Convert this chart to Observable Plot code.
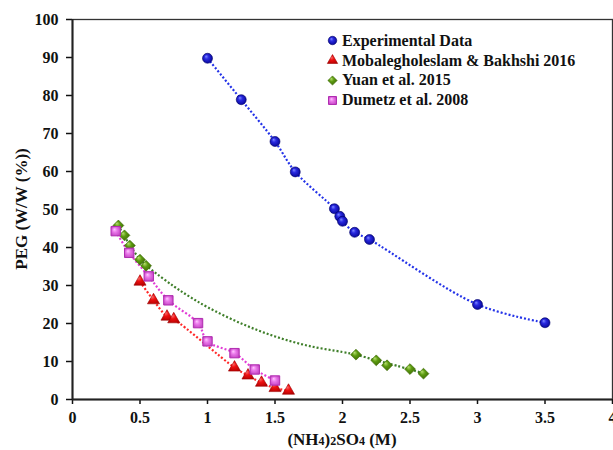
<!DOCTYPE html>
<html>
<head>
<meta charset="utf-8">
<script src="https://cdn.jsdelivr.net/npm/d3@7"></script>
<script src="https://cdn.jsdelivr.net/npm/@observablehq/plot@0.6"></script>
<style>
  body { margin: 0; background: #fff; }
  #chart { position: relative; width: 613px; height: 450px; }
  .legend { position: absolute; left: 325px; top: 31px; font: bold 16px "Liberation Serif", "Times New Roman", serif; color: #111; }
  .legend .row { display: flex; align-items: center; height: 19.8px; white-space: nowrap; }
  .legend svg { width: 15px; height: 15px; margin-right: 2px; }
</style>
</head>
<body>
<div id="chart"></div>
<script>
// Experimental data: PEG (W/W %) vs (NH4)2SO4 (M)
const expX = [1.0, 1.25, 1.5, 1.65, 1.94, 1.98, 2.0, 2.09, 2.2, 3.0, 3.5];
const expY = [89.8, 78.9, 67.9, 59.9, 50.2, 48.2, 46.9, 44.0, 42.1, 25.0, 20.2];

// Mobalegholeslam & Bakhshi 2016
const mobX = [0.5, 0.6, 0.7, 0.75, 1.2, 1.3, 1.4, 1.5, 1.6];
const mobY = [31.0, 26.1, 21.8, 21.1, 8.4, 6.3, 4.4, 3.0, 2.3];

// Yuan et al. 2015
const yuanX = [0.34, 0.385, 0.425, 0.5, 0.545, 2.1, 2.25, 2.33, 2.5, 2.6];
const yuanY = [45.8, 43.2, 40.5, 36.8, 35.2, 11.8, 10.3, 9.0, 8.0, 6.8];
// Yuan et al. 2015 correlation curve
const yuanCurveX = [0.34, 0.425, 0.5, 0.58, 0.75, 0.87, 1.0, 1.25, 1.5, 1.75, 2.0, 2.1, 2.25, 2.4, 2.6];
const yuanCurveY = [45.8, 40.6, 36.9, 34.3, 29.8, 27.0, 24.3, 20.0, 16.6, 14.1, 12.5, 11.8, 10.3, 8.9, 6.9];

// Dumetz et al. 2008
const dumX = [0.32, 0.42, 0.565, 0.71, 0.93, 1.0, 1.2, 1.35, 1.5];
const dumY = [44.3, 38.6, 32.4, 26.1, 20.1, 15.3, 12.2, 7.9, 5.0];

const xTicks = [0, 0.5, 1, 1.5, 2, 2.5, 3, 3.5, 4];
const yTicks = [0, 10, 20, 30, 40, 50, 60, 70, 80, 90, 100];

const seriesNames = ["Experimental Data", "Mobalegholeslam & Bakhshi 2016", "Yuan et al. 2015", "Dumetz et al. 2008"];

const table = (xs, ys) => xs.map((x, i) => ({x, y: ys[i]}));
const exp = table(expX, expY);
const mob = table(mobX, mobY);
const yuan = table(yuanX, yuanY);
const yuanCurve = table(yuanCurveX, yuanCurveY);
const dum = table(dumX, dumY);

// dotted trend lines
const dotted = {strokeWidth: 2.2, strokeDasharray: "2,2", strokeLinecap: "butt", curve: "catmull-rom"};

const styles = [
  {symbol: "circle", r: 5, fill: "url(#gBlue)", stroke: "#00006a", strokeWidth: 0.6},
  {symbol: "triangle", r: 4.5, fill: "url(#gRed)", stroke: "#a00000", strokeWidth: 0.6},
  {symbol: "diamond2", r: 4.9, fill: "url(#gGreen)", stroke: "#3a6a00", strokeWidth: 0.6},
  {symbol: "square", r: 5.3, fill: "url(#gPink)", stroke: "#b02cb0", strokeWidth: 1}
];

const plot = Plot.plot({
  width: 613,
  height: 450,
  marginLeft: 72,
  marginRight: 1,
  marginTop: 19,
  marginBottom: 51,
  style: {
    fontFamily: '"Liberation Serif", "Times New Roman", serif',
    fontSize: "16px",
    fontWeight: "bold",
    color: "#111",
    background: "#fff",
    overflow: "visible"
  },
  x: {domain: [0, 4]},
  y: {domain: [0, 100]},
  marks: [
    Plot.frame({stroke: "#333", strokeWidth: 1.3}),
    Plot.axisX({ticks: xTicks, tickFormat: d => String(d), tickSize: 5, tickPadding: 7, fontSize: 16, strokeWidth: 1.5, label: null}),
    Plot.axisY({ticks: yTicks, tickSize: 6, tickPadding: 8, fontSize: 16, strokeWidth: 1.5, label: null}),
    Plot.ruleX([0], {stroke: "#222", strokeWidth: 2}),
    Plot.ruleY([0], {stroke: "#222", strokeWidth: 2}),
    Plot.line(exp, {x: "x", y: "y", stroke: "#2433e8", ...dotted}),
    Plot.line(mob, {x: "x", y: "y", stroke: "#ff2828", ...dotted}),
    Plot.line(yuanCurve, {x: "x", y: "y", stroke: "#3f7f2a", ...dotted}),
    Plot.line(dum, {x: "x", y: "y", stroke: "#e23ed6", ...dotted}),
    Plot.dot(yuan, {x: "x", y: "y", ...styles[2]}),
    Plot.dot(mob, {x: "x", y: "y", ...styles[1]}),
    Plot.dot(dum, {x: "x", y: "y", ...styles[3]}),
    Plot.dot(exp, {x: "x", y: "y", ...styles[0]})
  ]
});

const svg = d3.select(plot);

// shaded marker fills
const defs = svg.insert("defs", ":first-child");
function radial(id, stops) {
  const g = defs.append("radialGradient").attr("id", id)
    .attr("cx", "50%").attr("cy", "50%").attr("r", "60%").attr("fx", "35%").attr("fy", "30%");
  stops.forEach(([o, c]) => g.append("stop").attr("offset", o).attr("stop-color", c));
}
radial("gBlue", [["0%", "#7f8cff"], ["35%", "#2a2ae0"], ["100%", "#00008c"]]);
radial("gRed", [["0%", "#ff7a7a"], ["40%", "#ee1010"], ["100%", "#b00000"]]);
radial("gGreen", [["0%", "#b8e070"], ["40%", "#5c9a10"], ["100%", "#366000"]]);
radial("gPink", [["0%", "#ffc8ff"], ["40%", "#ea78ea"], ["100%", "#c040c0"]]);

// axis titles
const xs = plot.scale("x"), ys = plot.scale("y");
const xMid = (xs.range[0] + xs.range[1]) / 2;
const yMid = (ys.range[0] + ys.range[1]) / 2;
const xt = svg.append("text")
  .attr("x", xMid).attr("y", 445)
  .attr("text-anchor", "middle")
  .attr("font-size", 17);
[["(NH", 17], ["4", 12], [")", 17], ["2", 12], ["SO", 17], ["4", 12], [" (M)", 17]]
  .forEach(([t, s]) => xt.append("tspan").attr("font-size", s).text(t));

svg.append("text")
  .attr("transform", `translate(27,${yMid}) rotate(-90)`)
  .attr("text-anchor", "middle")
  .attr("font-size", 17)
  .text("PEG (W/W (%))");

const chart = document.getElementById("chart");
chart.appendChild(plot);

// legend
const legend = document.createElement("div");
legend.className = "legend";
seriesNames.forEach((name, i) => {
  const row = document.createElement("div");
  row.className = "row";
  const s = styles[i];
  const icon = d3.create("svg").attr("viewBox", "-7.5 -7.5 15 15");
  const size = Math.PI * (s.r * 0.85) ** 2;
  const sym = {circle: d3.symbolCircle, triangle: d3.symbolTriangle, diamond2: d3.symbolDiamond2, square: d3.symbolSquare}[s.symbol];
  icon.append("path").attr("d", d3.symbol(sym, size)())
    .attr("fill", s.fill).attr("stroke", s.stroke).attr("stroke-width", s.strokeWidth);
  row.appendChild(icon.node());
  const label = document.createElement("span");
  label.textContent = name;
  row.appendChild(label);
  legend.appendChild(row);
});
chart.appendChild(legend);
</script>
</body>
</html>
